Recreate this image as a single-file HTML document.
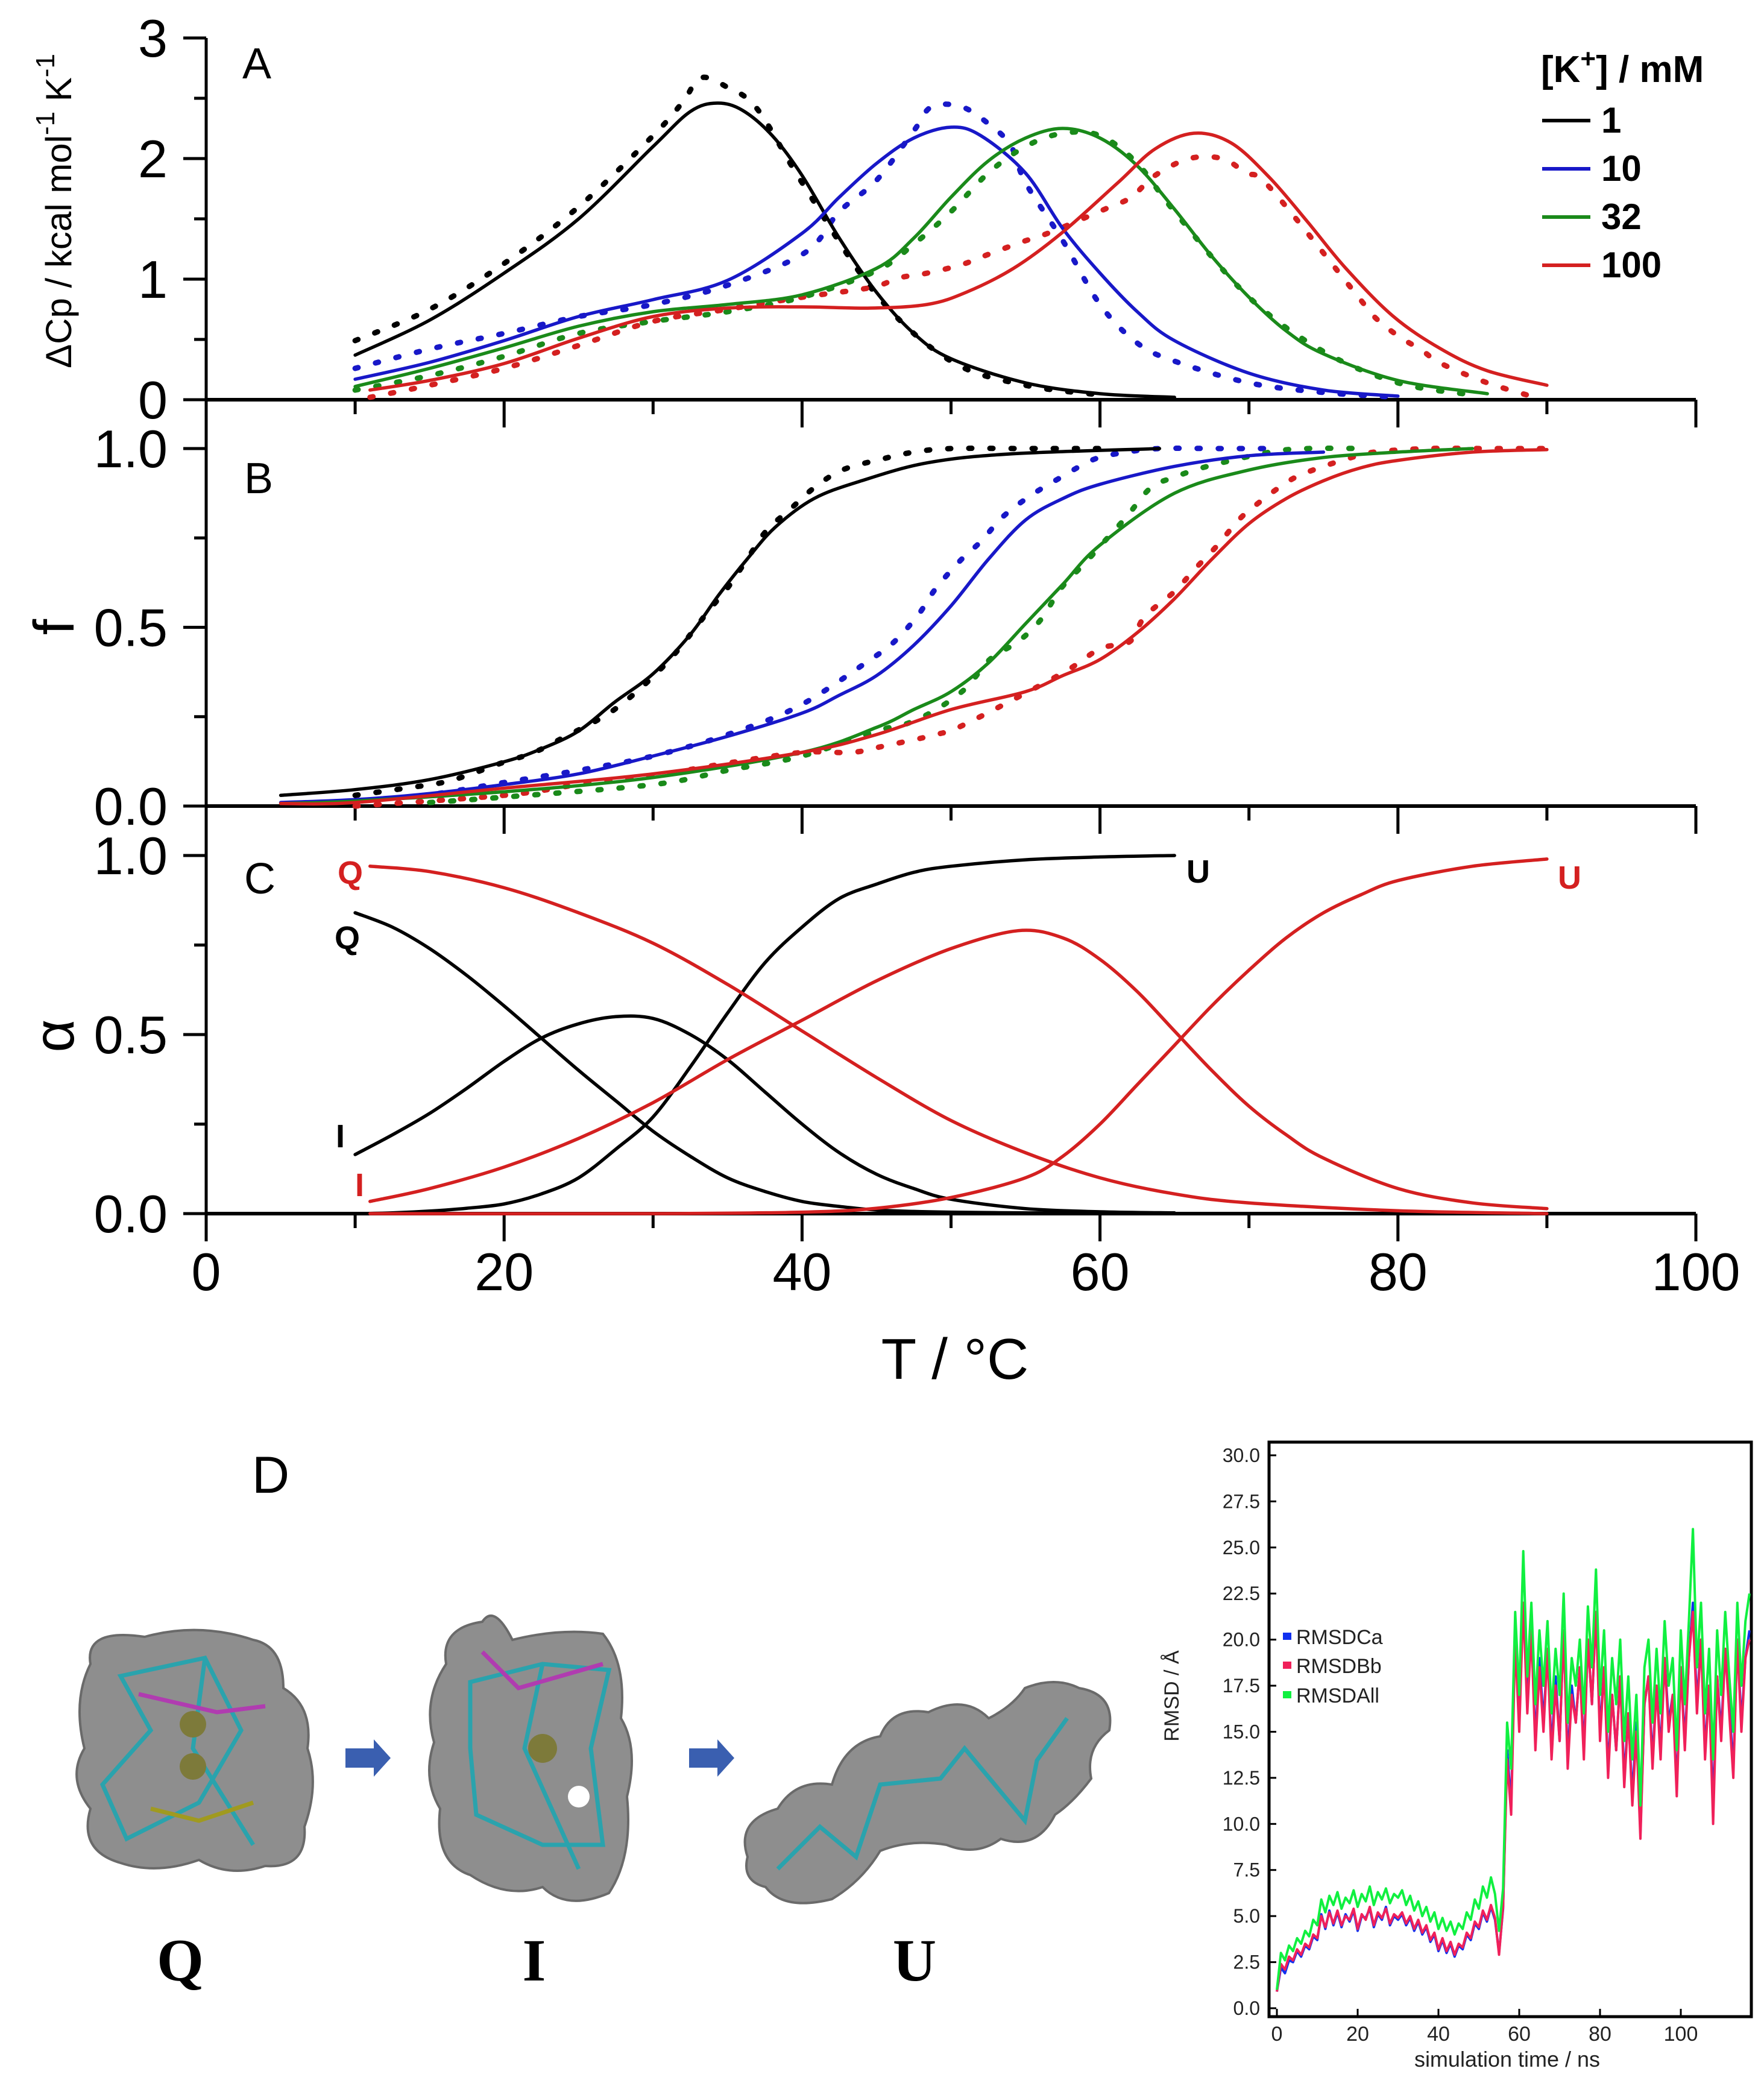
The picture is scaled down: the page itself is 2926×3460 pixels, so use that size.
<!DOCTYPE html>
<html><head><meta charset="utf-8"><style>
html,body{margin:0;padding:0;background:#fff;}
svg{display:block;font-family:"Liberation Sans",sans-serif;}
</style></head><body>
<svg id="fig" xmlns="http://www.w3.org/2000/svg" width="2926" height="3460" viewBox="0 0 2926 3460">
<rect width="2926" height="3460" fill="#fff"/>
<g id="axes"></g>
<g id="series"></g>
<g id="labels">
 <text x="402" y="130" font-size="72">A</text>
 <text x="405" y="818" font-size="72">B</text>
 <text x="405" y="1482" font-size="72">C</text>
 <text transform="translate(118,350) rotate(-90)" text-anchor="middle" font-size="60">ΔCp / kcal mol<tspan dy="-28" font-size="44">-1</tspan><tspan dy="28"> K</tspan><tspan dy="-28" font-size="44">-1</tspan></text>
 <text transform="translate(122,1040) rotate(-90)" text-anchor="middle" font-size="95">f</text>
 <text transform="translate(122,1718) rotate(-90)" text-anchor="middle" font-size="95">α</text>
 <text x="1584" y="2287" text-anchor="middle" font-size="96">T / °C</text>
 <text x="2556" y="136" font-size="62" font-weight="bold">[K<tspan dy="-24" font-size="44">+</tspan><tspan dy="24">] / mM</tspan></text>
 <g><line x1="2558" y1="200" x2="2638" y2="200" stroke="#000" stroke-width="6"/><text x="2656" y="220" font-size="60" font-weight="bold">1</text></g>
 <g><line x1="2558" y1="280" x2="2638" y2="280" stroke="#1818c8" stroke-width="6"/><text x="2656" y="300" font-size="60" font-weight="bold">10</text></g>
 <g><line x1="2558" y1="360" x2="2638" y2="360" stroke="#1a8a1a" stroke-width="6"/><text x="2656" y="380" font-size="60" font-weight="bold">32</text></g>
 <g><line x1="2558" y1="440" x2="2638" y2="440" stroke="#d42020" stroke-width="6"/><text x="2656" y="460" font-size="60" font-weight="bold">100</text></g>
 <text x="560" y="1466" font-size="54" font-weight="bold" fill="#d42020">Q</text>
 <text x="555" y="1574" font-size="54" font-weight="bold">Q</text>
 <text x="557" y="1903" font-size="54" font-weight="bold">I</text>
 <text x="589" y="1984" font-size="54" font-weight="bold" fill="#d42020">I</text>
 <text x="1968" y="1464" font-size="54" font-weight="bold">U</text>
 <text x="2584" y="1474" font-size="54" font-weight="bold" fill="#d42020">U</text>
 <text x="418" y="2476" font-size="86">D</text>
 <text x="299" y="3285" text-anchor="middle" font-family="Liberation Serif,serif" font-weight="bold" font-size="100">Q</text>
 <text x="886" y="3285" text-anchor="middle" font-family="Liberation Serif,serif" font-weight="bold" font-size="100">I</text>
 <text x="1517" y="3285" text-anchor="middle" font-family="Liberation Serif,serif" font-weight="bold" font-size="100">U</text>
</g>
<g id="molecules">
 <g>
  <path d="M150,2760 Q140,2700 240,2715 Q330,2690 420,2720 Q470,2730 470,2800 Q520,2830 510,2900 Q530,2960 505,3030 Q510,3100 440,3095 Q380,3115 330,3085 Q260,3110 200,3090 Q130,3070 150,3000 Q110,2950 140,2900 Q120,2820 150,2760Z" fill="#8e8e8e" stroke="#6a6a6a" stroke-width="4"/>
  <path d="M200,2780 L340,2750 L400,2870 L330,2990 L210,3050 L170,2960 L250,2870Z M340,2750 L320,2900 L420,3060" fill="none" stroke="#2aa3ad" stroke-width="7"/>
  <path d="M230,2810 L360,2840 L440,2830" fill="none" stroke="#b03cb0" stroke-width="7"/>
  <path d="M250,3000 L330,3020 L420,2990" fill="none" stroke="#a09a20" stroke-width="7"/>
  <circle cx="320" cy="2860" r="22" fill="#7d7a3a"/><circle cx="320" cy="2930" r="22" fill="#7d7a3a"/>
 </g>
 <g>
  <path d="M740,2760 Q730,2700 800,2690 Q820,2660 850,2720 Q930,2700 1000,2710 Q1040,2760 1030,2850 Q1060,2900 1040,2980 Q1050,3080 1010,3140 Q940,3170 900,3130 Q840,3150 780,3110 Q720,3090 730,3000 Q700,2950 720,2890 Q700,2820 740,2760Z" fill="#8e8e8e" stroke="#6a6a6a" stroke-width="4"/>
  <path d="M780,2790 L900,2760 L1010,2770 L980,2900 L1000,3060 L900,3060 L790,3010 L780,2900Z M900,2760 L870,2900 L960,3100" fill="none" stroke="#2aa3ad" stroke-width="7"/>
  <path d="M800,2740 L860,2800 L1000,2760" fill="none" stroke="#b03cb0" stroke-width="7"/>
  <circle cx="900" cy="2900" r="24" fill="#7d7a3a"/><circle cx="960" cy="2980" r="18" fill="#ffffff"/>
 </g>
 <g>
  <path d="M1240,3080 Q1220,3020 1290,3000 Q1320,2950 1380,2960 Q1400,2890 1460,2880 Q1480,2830 1540,2840 Q1600,2810 1640,2850 Q1680,2830 1700,2800 Q1750,2780 1790,2800 Q1850,2810 1840,2870 Q1800,2900 1810,2950 Q1780,2990 1750,3010 Q1720,3070 1660,3050 Q1620,3080 1570,3060 Q1510,3050 1460,3070 Q1430,3120 1380,3150 Q1300,3170 1270,3130 Q1230,3120 1240,3080Z" fill="#8e8e8e" stroke="#6a6a6a" stroke-width="4"/>
  <path d="M1290,3100 L1360,3030 L1420,3080 L1460,2960 L1560,2950 L1600,2900 L1700,3020 L1720,2920 L1770,2850" fill="none" stroke="#2aa3ad" stroke-width="7"/>
 </g>
 <polygon points="573,2900 620,2900 620,2885 648,2916 620,2947 620,2932 573,2932" fill="#3a5fb0"/>
 <polygon points="1143,2900 1190,2900 1190,2885 1218,2916 1190,2947 1190,2932 1143,2932" fill="#3a5fb0"/>
</g>
<g id="rmsd"></g>
</svg>
<script>
// ---- Panel A data (T in °C, ΔCp in kcal/mol/K) ----
const aT1 = [10,15,20,25,30,32.5,34.3,36,38,40,42.5,45,47.5,50,55,60,65];
const aFit1 = [0.37,0.66,1.05,1.50,2.10,2.39,2.46,2.40,2.19,1.86,1.34,0.89,0.55,0.34,0.14,0.05,0.02];
const aExpT1 = [10,15,20,25,30,32,33.2,35,37,40,45,50,55,60];
const aExp1 = [0.49,0.75,1.13,1.60,2.19,2.47,2.67,2.59,2.41,1.80,0.87,0.32,0.12,0.04];
const aT10 = [10,15,20,25,30,35,40,42.5,45,47.5,50,52,55,57.5,60,62.5,65,70,75,80];
const aFit10 = [0.17,0.31,0.49,0.69,0.83,0.99,1.38,1.68,1.96,2.17,2.26,2.19,1.88,1.42,1.05,0.73,0.49,0.22,0.08,0.03];
const aExpT10 = [10,15,20,25,30,35,40.2,42.5,45,47.5,48.7,50.7,52.5,54,55,57.5,60,62.5,65,70,75,80];
const aExp10 = [0.26,0.42,0.55,0.69,0.79,0.95,1.22,1.56,1.82,2.23,2.43,2.43,2.29,2.11,1.80,1.32,0.79,0.47,0.32,0.14,0.06,0.02];
const aT32 = [10,15,20,25,30,35,40,45,47.5,50,52.5,55,57.5,60,62.5,65,67.5,70,72.5,75,80,86];
const aFit32 = [0.11,0.26,0.43,0.61,0.73,0.79,0.87,1.09,1.34,1.68,1.98,2.17,2.25,2.17,1.94,1.58,1.19,0.85,0.57,0.38,0.16,0.05];
const aExpT32 = [10,15,20,25,30,35,40,45,47.5,50,52.5,55,57.5,60,62.5,65,70,75,80,85];
const aExp32 = [0.08,0.20,0.36,0.55,0.65,0.73,0.85,1.07,1.29,1.56,1.88,2.10,2.21,2.19,1.96,1.56,0.85,0.40,0.14,0.04];
const aT100 = [11,15,20,25,30,35,40,44.6,48.4,51,54.2,57.4,61.2,63.7,66.3,68.8,71.4,73.9,76.5,79.7,82.9,86,90];
const aFit100 = [0.08,0.16,0.30,0.51,0.69,0.76,0.77,0.76,0.79,0.89,1.09,1.38,1.80,2.08,2.21,2.13,1.84,1.48,1.09,0.69,0.42,0.24,0.12];
const aExpT100 = [11,15,20,25,30,35,40,44.6,46.5,48.4,50.7,52.6,54.8,56.7,60.5,62.1,63.7,66,68.2,69.8,71.4,77.1,78.4,80,81.6,82.9,86,89.2];
const aExp100 = [0.02,0.12,0.26,0.45,0.65,0.75,0.85,0.93,1.01,1.05,1.12,1.21,1.31,1.39,1.59,1.68,1.86,2.0,2.0,1.88,1.76,0.89,0.69,0.53,0.41,0.30,0.14,0.02];
// ---- Panel B data (fraction unfolded f) ----
const bT1 = [5,10,15,20,22.5,25,27.4,30,32.5,34.4,36.3,38.2,40.8,44,48.4,54,64];
const bFit1 = [0.03,0.046,0.074,0.124,0.16,0.21,0.29,0.37,0.48,0.59,0.69,0.78,0.86,0.91,0.96,0.985,1.0];
const bExpT1 = [10,13.4,16,17.8,19.8,22,23.9,27.4,30.9,33.8,35,36.3,37.6,39.2,40.8,42.7,45.3,47.5,50,55,60];
const bExp1 = [0.03,0.05,0.067,0.09,0.12,0.15,0.19,0.27,0.40,0.55,0.61,0.69,0.77,0.83,0.89,0.94,0.97,0.99,1.0,1.0,1.0];
const bT10 = [5,10,15,20,25,30,35,40,42.5,45,47.5,50,52.5,55,57.5,60,65,70,75];
const bFit10 = [0.01,0.018,0.035,0.06,0.09,0.14,0.195,0.26,0.31,0.365,0.45,0.56,0.69,0.80,0.86,0.90,0.95,0.98,0.99];
const bExpT10 = [10,15,20,25,30,35,39.8,44.6,46.2,47.8,49,50.7,52,53.5,55.4,57.4,59.6,61.8,64,68,72];
const bExp10 = [0.014,0.032,0.066,0.10,0.14,0.20,0.28,0.41,0.46,0.535,0.61,0.69,0.74,0.81,0.87,0.92,0.97,0.99,1.0,1.0,1.0];
const bT32 = [5,10,20,30,40,45,47.5,50,52.5,55,57.5,60,65,70,75,80,85];
const bFit32 = [0.007,0.014,0.04,0.08,0.15,0.22,0.27,0.32,0.40,0.51,0.62,0.73,0.875,0.94,0.975,0.99,1.0];
const bExpT32 = [15,20,30,35,40,45,47,49,51,52.6,54.5,56,57.4,59,60.5,61.8,63.4,65,67.2,71.4,74,78];
const bExp32 = [0.01,0.025,0.06,0.10,0.14,0.21,0.23,0.27,0.33,0.41,0.46,0.52,0.61,0.68,0.75,0.81,0.89,0.92,0.95,0.99,1.0,1.0];
const bT100 = [5,10,20,30,40,45,50,55,57.5,60,62.5,65,67.5,70,72.5,75,77.5,80,85,90];
const bFit100 = [0.007,0.01,0.05,0.09,0.15,0.20,0.27,0.32,0.365,0.41,0.485,0.58,0.69,0.79,0.86,0.91,0.946,0.967,0.99,0.997];
const bExpT100 = [10,20,25,30,35,40,43.3,45.4,49,51,57.4,60,62,63,65,66.3,67.9,69.3,70.7,72.7,74.3,76.5,78.4,82,86,90];
const bExp100 = [0.0,0.03,0.06,0.085,0.12,0.15,0.15,0.167,0.2,0.23,0.37,0.44,0.46,0.53,0.60,0.66,0.73,0.80,0.85,0.91,0.94,0.97,0.99,1.0,1.0,1.0];
// ---- Panel C data (populations α of Q, I, U) ----
const cT1 = [10,12.5,15,17.5,20,22.5,25,27.5,30,32.5,35,37.5,40,42.5,45,47.5,50,55,60,65];
const cQ1 = [0.84,0.80,0.74,0.665,0.58,0.49,0.40,0.315,0.23,0.16,0.10,0.062,0.034,0.02,0.01,0.006,0.004,0.002,0.001,0.0];
const cI1 = [0.165,0.22,0.28,0.35,0.425,0.49,0.53,0.55,0.545,0.50,0.43,0.34,0.25,0.17,0.11,0.07,0.04,0.014,0.005,0.002];
const cU1 = [0.0,0.002,0.007,0.015,0.027,0.055,0.10,0.18,0.27,0.41,0.56,0.70,0.80,0.88,0.92,0.953,0.97,0.988,0.996,1.0];
const cTQ100 = [11,15,20,25,30,35,40,45,50,55,60,65,70,80,90];
const cQ100 = [0.97,0.955,0.91,0.84,0.755,0.64,0.51,0.38,0.26,0.17,0.10,0.055,0.03,0.008,0.0];
const cTI100 = [11,15,20,25,30,35,40,45,50,54.5,57.5,60,62.5,65,67.5,70,72.5,75,80,85,90];
const cI100 = [0.034,0.07,0.13,0.21,0.31,0.43,0.54,0.65,0.74,0.79,0.77,0.71,0.62,0.51,0.40,0.30,0.22,0.155,0.07,0.03,0.014];
const cTU100 = [11,30,40,45,50,55,57.5,60,62.5,65,67.5,70,72.5,75,77.5,80,85,90];
const cU100 = [0.0,0.0,0.004,0.015,0.045,0.10,0.16,0.25,0.36,0.47,0.58,0.68,0.77,0.84,0.89,0.93,0.97,0.99];
// ---- RMSD data (1 ns steps, Å) ----
const rmsdAll = [1.0,3.0,2.6,3.4,3.1,3.8,3.5,4.2,3.9,4.8,4.5,5.9,5.2,6.1,5.6,6.3,5.4,6.0,5.7,6.4,5.5,6.2,5.8,6.6,5.6,6.3,5.9,6.5,5.7,6.2,6.0,6.4,5.6,6.1,5.3,5.8,5.0,5.5,4.7,5.2,4.3,4.9,4.2,4.7,4.0,4.6,4.3,5.2,4.8,5.9,5.4,6.6,6.0,7.1,6.2,4.2,6.5,15.5,13.0,21.5,17.0,24.8,18.0,22.0,16.5,20.5,17.5,21.0,16.0,19.5,17.0,22.5,15.5,19.0,17.5,20.0,16.0,21.8,18.5,23.8,17.0,20.5,15.0,19.0,16.5,20.0,14.5,18.0,13.5,17.0,11.0,18.5,20.0,15.5,19.5,16.0,21.0,17.5,19.0,14.0,20.5,16.5,21.0,26.0,18.5,22.0,16.0,19.5,13.5,20.5,17.0,21.5,18.0,15.0,22.0,17.5,21.0,22.5];
const rmsdBb = [0.9,2.4,2.1,2.8,2.6,3.2,2.9,3.5,3.3,4.0,3.8,5.0,4.4,5.2,4.6,5.3,4.5,5.0,4.8,5.4,4.3,5.1,4.8,5.5,4.5,5.2,4.9,5.4,4.6,5.1,4.9,5.2,4.6,5.0,4.3,4.8,4.1,4.5,3.7,4.1,3.2,3.8,3.1,3.6,2.9,3.5,3.3,4.1,3.8,4.7,4.4,5.3,4.8,5.6,4.9,2.9,5.5,13.5,10.5,20.0,15.0,22.0,16.0,20.5,14.0,18.5,15.0,19.5,13.5,17.5,14.5,20.5,13.0,17.0,15.5,18.5,13.5,20.0,16.5,21.5,14.5,18.5,12.5,17.0,14.0,18.0,12.0,16.0,11.0,15.0,9.2,16.5,18.0,13.0,17.5,13.5,19.0,15.0,17.0,11.5,18.5,14.0,19.0,21.5,16.0,20.0,13.5,17.5,10.0,18.0,14.5,19.5,16.0,12.5,20.0,15.0,19.0,20.0];
const rmsdCa = [0.9,2.2,1.9,2.6,2.5,3.1,2.8,3.4,3.2,3.9,3.7,5.1,4.3,5.3,4.5,5.2,4.4,5.1,4.7,5.3,4.2,5.0,4.9,5.4,4.4,5.1,4.8,5.5,4.5,5.0,4.8,5.1,4.5,4.9,4.2,4.7,4.0,4.4,3.6,4.0,3.1,3.7,3.0,3.5,2.8,3.4,3.2,4.0,3.7,4.6,4.3,5.2,4.7,5.5,4.8,3.0,5.4,14.0,11.0,20.5,15.5,22.0,16.5,20.5,14.5,19.0,15.5,19.5,14.0,18.0,14.5,20.5,13.5,17.5,15.5,18.5,14.0,20.0,16.5,21.5,15.0,18.5,13.0,17.0,14.0,18.0,12.5,16.0,11.5,15.5,9.5,16.5,18.0,13.5,17.5,14.0,19.0,15.5,17.0,12.0,18.5,14.5,19.0,22.0,16.5,20.0,14.0,17.5,11.0,18.0,15.0,19.5,16.5,13.0,20.0,15.5,19.0,20.5];
const xTicks = [0,20,40,60,80,100];
const rmsdYTicks = ["0.0","2.5","5.0","7.5","10.0","12.5","15.0","17.5","20.0","22.5","25.0","27.5","30.0"];
const rmsdXTicks = [0,20,40,60,80,100];

const NS='http://www.w3.org/2000/svg';
function mk(tag,attrs,parent){const e=document.createElementNS(NS,tag);for(const k in attrs)e.setAttribute(k,attrs[k]);parent.appendChild(e);return e;}
const X = t => 342 + 24.71*t;
const yA = v => 663 - 200*v;
const yB = v => 1337 - 593*v;
const yC = v => 2013 - 594*v;
function smooth(xs,ys){let p=xs.map((x,i)=>[x,ys[i]]);let d='M'+p[0][0].toFixed(1)+','+p[0][1].toFixed(1);
 for(let i=0;i<p.length-1;i++){const p0=p[Math.max(0,i-1)],p1=p[i],p2=p[i+1],p3=p[Math.min(p.length-1,i+2)];
  const c1x=p1[0]+(p2[0]-p0[0])/6,c1y=p1[1]+(p2[1]-p0[1])/6,c2x=p2[0]-(p3[0]-p1[0])/6,c2y=p2[1]-(p3[1]-p1[1])/6;
  d+=' C'+c1x.toFixed(1)+','+c1y.toFixed(1)+' '+c2x.toFixed(1)+','+c2y.toFixed(1)+' '+p2[0].toFixed(1)+','+p2[1].toFixed(1);}
 return d;}
const axes=document.getElementById('axes'), ser=document.getElementById('series');
const la=mk('line',{x1:342,y1:63,x2:342,y2:2016,stroke:'#000','stroke-width':5},axes);


function yticks(yf,majors,labels,minors,name){
 majors.forEach((v,i)=>{const y=yf(v);
  const t=mk('line',{x1:304,y1:y,x2:342,y2:y,stroke:'#000','stroke-width':5},axes);
  
  
  const tx=mk('text',{x:278,y:y+31,'text-anchor':'end','font-size':88},axes);tx.textContent=labels[i];
  
  });
 minors.forEach(v=>{const y=yf(v);mk('line',{x1:322,y1:y,x2:342,y2:y,stroke:'#000','stroke-width':5},axes);});
}
yticks(yA,[0,1,2,3],['0','1','2','3'],[0.5,1.5,2.5],'y-axis-a');
yticks(yB,[0,0.5,1],['0.0','0.5','1.0'],[0.25,0.75],'y-axis-b');
yticks(yC,[0,0.5,1],['0.0','0.5','1.0'],[0.25,0.75],'y-axis-c');
[663,1337,2013].forEach((y0,k)=>{
 const l=mk('line',{x1:342,y1:y0,x2:X(100),y2:y0,stroke:'#000','stroke-width':6},axes);
 
 
 for(let t=0;t<=100;t+=10){const maj=t%20===0;mk('line',{x1:X(t),y1:y0,x2:X(t),y2:y0+(maj?46:24),stroke:'#000','stroke-width':5},axes);}
});
xTicks.forEach(t=>{const tx=mk('text',{x:X(t),y:2140,'text-anchor':'middle','font-size':88},axes);tx.textContent=t;
 
 });
function line(xs,ys,yf,color,name,dotted){
 const p=mk('path',{d:smooth(xs.map(X),ys.map(yf)),fill:'none',stroke:color,'stroke-width':dotted?9:5.5,'stroke-linecap':'round'},ser);
 if(dotted)p.setAttribute('stroke-dasharray','5 30');
 
 
}
const K='#000',B='#1818c8',G='#1a8a1a',R='#d42020';
line(aExpT1,aExp1,yA,K,'dsc-exp-1mM',1);line(aExpT10,aExp10,yA,B,'dsc-exp-10mM',1);
line(aExpT32,aExp32,yA,G,'dsc-exp-32mM',1);line(aExpT100,aExp100,yA,R,'dsc-exp-100mM',1);
line(aT1,aFit1,yA,K,'dsc-fit-1mM');line(aT10,aFit10,yA,B,'dsc-fit-10mM');
line(aT32,aFit32,yA,G,'dsc-fit-32mM');line(aT100,aFit100,yA,R,'dsc-fit-100mM');
line(bExpT1,bExp1,yB,K,'f-exp-1mM',1);line(bExpT10,bExp10,yB,B,'f-exp-10mM',1);
line(bExpT32,bExp32,yB,G,'f-exp-32mM',1);line(bExpT100,bExp100,yB,R,'f-exp-100mM',1);
line(bT1,bFit1,yB,K,'f-fit-1mM');line(bT10,bFit10,yB,B,'f-fit-10mM');
line(bT32,bFit32,yB,G,'f-fit-32mM');line(bT100,bFit100,yB,R,'f-fit-100mM');
line(cT1,cQ1,yC,K,'alpha-q-1mM');line(cT1,cI1,yC,K,'alpha-i-1mM');line(cT1,cU1,yC,K,'alpha-u-1mM');
line(cTQ100,cQ100,yC,R,'alpha-q-100mM');line(cTI100,cI100,yC,R,'alpha-i-100mM');line(cTU100,cU100,yC,R,'alpha-u-100mM');

// RMSD chart
const rg=document.getElementById('rmsd');
const RX = t => 2118 + 6.7*t;
const RY = v => 3331 - 30.57*v;
const box=mk('rect',{x:2105,y:2392,width:800,height:953,fill:'none',stroke:'#000','stroke-width':5},rg);


rmsdYTicks.forEach(s=>{const v=parseFloat(s),y=RY(v);
 mk('line',{x1:2105,y1:y,x2:2117,y2:y,stroke:'#000','stroke-width':3},rg);
 const tx=mk('text',{x:2090,y:y+11,'text-anchor':'end','font-size':32,fill:'#222'},rg);tx.textContent=s;
 
 });
rmsdXTicks.forEach(t=>{const x=RX(t);
 mk('line',{x1:x,y1:3345,x2:x,y2:3332,stroke:'#000','stroke-width':3},rg);
 const tx=mk('text',{x:x,y:3385,'text-anchor':'middle','font-size':34,fill:'#222'},rg);tx.textContent=t;
 
 });
function rline(vals,color,name){const d=vals.map((v,i)=>(i?'L':'M')+RX(i).toFixed(1)+','+RY(v).toFixed(1)).join(' ');
 const p=mk('path',{d:d,fill:'none',stroke:color,'stroke-width':4,'stroke-linejoin':'round'},rg);
 
 }
rline(rmsdCa,'#1030f0','rmsd-ca-line');rline(rmsdBb,'#f0205a','rmsd-bb-line');rline(rmsdAll,'#10f040','rmsd-all-line');
[['RMSDCa','#1030f0',2716],['RMSDBb','#f0205a',2764],['RMSDAll','#10f040',2813]].forEach(([n,c,y])=>{
 const g=mk('g',{},rg);
 
 
 mk('rect',{x:2128,y:y-8,width:14,height:12,fill:c},g);
 const tx=mk('text',{x:2150,y:y+11,'font-size':34,fill:'#222'},g);tx.textContent=n;});
const xt=mk('text',{x:2500,y:3428,'text-anchor':'middle','font-size':36,fill:'#222'},rg);xt.textContent='simulation time / ns';


const yt=mk('text',{transform:'translate(1955,2813) rotate(-90)','text-anchor':'middle','font-size':34,fill:'#222'},rg);yt.textContent='RMSD / Å';


</script>
</body></html>
